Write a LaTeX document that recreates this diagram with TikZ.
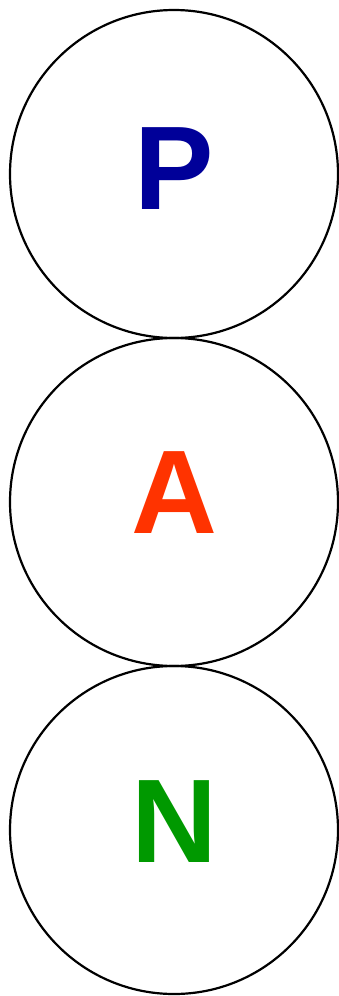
\documentclass[tikz,border=0pt]{standalone}
\usepackage{fontspec}
\setmainfont{Liberation Sans}
\usepackage{xcolor}
\usepackage{tikz}
\usetikzlibrary{positioning, calc}
\definecolor{pblue}{RGB}{0,0,153}
\definecolor{ared}{RGB}{255,51,0}
\definecolor{ngreen}{RGB}{0,153,0}

\begin{document}
\begin{tikzpicture}[
    x=1pt, y=1pt,
    ring/.style={draw, circle, line width=2.2pt, minimum size=328pt, inner sep=0pt},
    letter/.style={font=\fontsize{119}{119}\selectfont\bfseries, inner sep=0pt},
  ]
  \useasboundingbox (0,0) rectangle (338,-996);
  \node[ring] (pring) at (174,-174) {};
  \node[ring] (aring) at (174,-502) {};
  \node[ring] (nring) at (174,-830) {};
  \node[letter, text=pblue] (plbl) at ([yshift=5pt]pring.center) {P};
  \node[letter, text=ared] (albl) at ([yshift=9pt]aring.center) {A};
  \node[letter, text=ngreen] (nlbl) at ([yshift=8pt]nring.center) {N};
\end{tikzpicture}
\end{document}
